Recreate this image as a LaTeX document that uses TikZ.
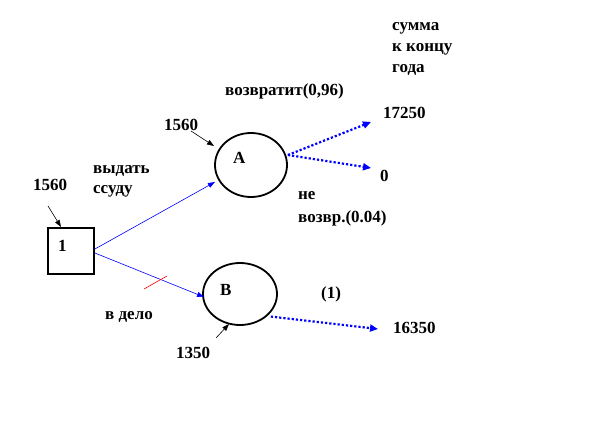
\documentclass[tikz,border=0pt]{standalone}
\usepackage{fontspec}
\setmainfont{Liberation Serif}
\usetikzlibrary{arrows.meta,shapes.geometric}
\begin{document}
\begin{tikzpicture}[x=1pt,y=-1pt,
  lbl/.style={font=\bfseries\fontsize{17}{19}\selectfont,inner sep=0pt,anchor=west},
  chance/.style={draw,line width=1.8pt,ellipse,inner sep=0pt},
  flow/.style={blue,line width=0.6pt,-{Triangle[length=7pt,width=5pt]}},
  dflow/.style={blue,line width=2.2pt,dotted,-{Triangle[length=8pt,width=7pt]}},
  ptr/.style={black,line width=0.6pt,-{Triangle[length=7pt,width=5pt]}}]
\useasboundingbox (0,0) rectangle (612,422);
% decision node
\node[draw,line width=1.8pt,minimum width=46pt,minimum height=46pt] (d) at (71,251) {};
\node[lbl] (d1) at (58,246) {1};
% chance nodes
\node[chance,minimum width=72pt,minimum height=64pt] (A) at (251,165) {};
\node[lbl] (Al) at (233,158) {A};
\node[chance,minimum width=74pt,minimum height=62pt] (B) at (240,294) {};
\node[lbl] (Bl) at (220,290) {B};
% labels
\node[lbl] (n1560a) at (33,185) {1560};
\node[lbl] (n1560b) at (164,125) {1560};
\node[lbl] (n1350) at (176,353) {1350};
\node[lbl] (vyd) at (93,171) {выдать};
\node[lbl] (ssu) at (93,191) {ссуду};
\node[lbl] (vdel) at (105,317) {в дело};
\node[lbl] (vozv) at (225,91) {возвратит(0,96)};
\node[lbl] (s1) at (392,28) {сумма};
\node[lbl] (s2) at (392,49) {к концу};
\node[lbl] (s3) at (392,70) {года};
\node[lbl] (v17) at (383,113) {17250};
\node[lbl] (v0) at (380,176) {0};
\node[lbl] (ne) at (298,196) {не};
\node[lbl] (nev) at (298,218) {возвр.(0.04)};
\node[lbl] (one) at (321,294) {(1)};
\node[lbl] (v163) at (393,328) {16350};
% endpoints
\coordinate (p1a) at (48,206);
\coordinate (p1b) at (61,227);
\coordinate (p2a) at (191,131);
\coordinate (p2b) at (214,146);
\coordinate (p3a) at (216,338);
\coordinate (p3b) at (229,324);
\coordinate (e17) at (371,122);
\coordinate (e0) at (371,168);
\coordinate (e16) at (378,329);
\coordinate (r1) at (144,289);
\coordinate (r2) at (167,276);
% connectors
\draw[flow] (d.east) ++(0,-2) coordinate (ds1) -- (215,182);
\draw[flow] (ds1) ++(0,4) -- (204,297);
\draw[ptr] (p1a) -- (p1b);
\draw[ptr] (p2a) -- (p2b);
\draw[ptr] (p3a) -- (p3b);
\draw[dflow] (A.east) ++(0,-10) coordinate (ae) -- (e17);
\draw[dflow] (ae) -- (e0);
\draw[dflow] (B.south east) ++(4,0) coordinate (be) -- (e16);
\draw[red,line width=0.6pt] (r1) -- (r2);
\end{tikzpicture}
\end{document}
